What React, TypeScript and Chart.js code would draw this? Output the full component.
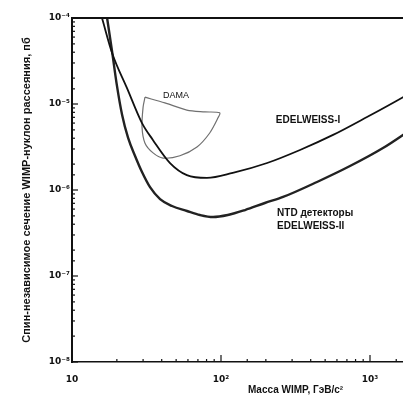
import { useEffect, useRef } from 'react';
import { Chart, registerables } from 'chart.js';

Chart.register(...registerables);

// EDELWEISS-I exclusion limit (mass in GeV/c^2, cross-section in pb)
const edelweiss1Mass = [15.9, 18.6, 23.4, 29.5, 35, 45.5, 59, 80.5, 120, 204, 339, 565, 955, 1665, 1854];
const edelweiss1Sigma = [1e-4, 3.9e-5, 1.53e-5, 6.0e-6, 3.8e-6, 2.06e-6, 1.49e-6, 1.38e-6, 1.58e-6, 2.06e-6, 2.92e-6, 4.37e-6, 7.06e-6, 1.2e-5, 1.34e-5];

// EDELWEISS-II (NTD detectors) projected limit
const edelweiss2Mass = [17.2, 18.6, 20.0, 21.7, 23.8, 26.5, 29.5, 33.4, 39.0, 46.9, 59.1, 72.3, 88.4, 111, 145, 197, 261, 441, 734, 1222, 1665, 1854];
const edelweiss2Sigma = [1e-4, 4.02e-5, 1.66e-5, 7.45e-6, 4.03e-6, 2.49e-6, 1.62e-6, 1.08e-6, 7.85e-7, 6.51e-7, 5.7e-7, 5.12e-7, 4.85e-7, 5.12e-7, 5.85e-7, 7.06e-7, 8.3e-7, 1.24e-6, 1.9e-6, 3.08e-6, 4.37e-6, 4.99e-6];

// DAMA allowed region (closed contour)
const damaMass = [30.9, 42, 59, 78, 98, 95.5, 84, 69, 53, 40.8, 35, 30.9, 29.5, 30, 30.9];
const damaSigma = [1.2e-5, 1.03e-5, 8.5e-6, 8.1e-6, 7.9e-6, 6.9e-6, 4.6e-6, 3.16e-6, 2.5e-6, 2.35e-6, 2.7e-6, 3.5e-6, 5.4e-6, 9.2e-6, 1.2e-5];

// Tick labels
const xTickValues = [10, 100, 1000];
const xTickLabels = ['10', '10²', '10³'];
const yTickValues = [1e-4, 1e-5, 1e-6, 1e-7, 1e-8];
const yTickLabels = ['10⁻⁴', '10⁻⁵', '10⁻⁶', '10⁻⁷', '10⁻⁸'];

// Text annotations anchored in data coordinates
const annotationTexts = ['DAMA', 'EDELWEISS-I', 'NTD детекторы', 'EDELWEISS-II'];
const annotationMass = [49.9, 384, 238, 238];
const annotationSigma = [1.27e-5, 6.4e-6, 5.4e-7, 3.75e-7];
const annotationAlign: CanvasTextAlign[] = ['center', 'center', 'left', 'left'];
const annotationFont = ['9px "Liberation Sans", Arial, sans-serif', 'bold 10px "Liberation Sans", Arial, sans-serif', 'bold 10px "Liberation Sans", Arial, sans-serif', 'bold 10px "Liberation Sans", Arial, sans-serif'];

const toPoints = (xs: number[], ys: number[]) => xs.map((x, i) => ({ x, y: ys[i] }));

const isDecade = (v: number) => Math.abs(Math.log10(v) - Math.round(Math.log10(v))) < 1e-6;

const labelFor = (values: number[], labels: string[], value: number) => {
  const i = values.findIndex((v) => Math.abs(Math.log10(v) - Math.log10(value)) < 1e-6);
  return i >= 0 ? labels[i] : '';
};

const decorPlugin = {
  id: 'decor',
  afterDraw(chart: any) {
    const { ctx, chartArea } = chart;
    const xs = chart.scales.x;
    const ys = chart.scales.y;
    ctx.save();
    ctx.strokeStyle = '#111';
    // top frame line
    ctx.lineWidth = 2;
    ctx.beginPath();
    ctx.moveTo(chartArea.left, chartArea.top);
    ctx.lineTo(chartArea.right, chartArea.top);
    ctx.stroke();
    // inward ticks on the left axis
    ctx.lineWidth = 1.2;
    ys.ticks.forEach((t: any) => {
      const y = ys.getPixelForValue(t.value);
      const len = isDecade(t.value) ? 6 : 3;
      ctx.beginPath();
      ctx.moveTo(chartArea.left, y);
      ctx.lineTo(chartArea.left + len, y);
      ctx.stroke();
    });
    // inward ticks on the bottom axis
    xs.ticks.forEach((t: any) => {
      const x = xs.getPixelForValue(t.value);
      const len = isDecade(t.value) ? 7 : 3;
      ctx.beginPath();
      ctx.moveTo(x, chartArea.bottom);
      ctx.lineTo(x, chartArea.bottom - len);
      ctx.stroke();
    });
    // annotations
    ctx.fillStyle = '#111';
    ctx.textBaseline = 'middle';
    annotationTexts.forEach((txt, i) => {
      ctx.font = annotationFont[i];
      ctx.textAlign = annotationAlign[i];
      ctx.fillText(txt, xs.getPixelForValue(annotationMass[i]), ys.getPixelForValue(annotationSigma[i]));
    });
    ctx.restore();
  },
};

export default function App() {
  const canvasRef = useRef<HTMLCanvasElement | null>(null);

  useEffect(() => {
    if (!canvasRef.current) return;
    const fontFamily = '"Liberation Sans", Arial, sans-serif';
    const tickFontFamily = '"DejaVu Sans", "Liberation Sans", sans-serif';
    const chart = new Chart(canvasRef.current, {
      type: 'line',
      data: {
        datasets: [
          {
            label: 'EDELWEISS-I',
            data: toPoints(edelweiss1Mass, edelweiss1Sigma),
            borderColor: '#111',
            borderWidth: 1.8,
            pointRadius: 0,
            cubicInterpolationMode: 'monotone',
            fill: false,
          },
          {
            label: 'EDELWEISS-II',
            data: toPoints(edelweiss2Mass, edelweiss2Sigma),
            borderColor: '#222',
            borderWidth: 2.4,
            pointRadius: 0,
            cubicInterpolationMode: 'monotone',
            fill: false,
          },
          {
            label: 'DAMA',
            data: toPoints(damaMass, damaSigma),
            borderColor: '#707070',
            borderWidth: 1.2,
            pointRadius: 0,
            tension: 0.3,
            fill: false,
          },
        ],
      },
      options: {
        animation: false,
        responsive: false,
        devicePixelRatio: 1,
        layout: { padding: { left: 0, top: 18, right: 21, bottom: 0 } },
        plugins: {
          legend: { display: false },
          tooltip: { enabled: false },
        },
        scales: {
          x: {
            type: 'logarithmic',
            min: 10,
            max: 10000,
            grid: { display: true, drawOnChartArea: false, drawTicks: false },
            border: { display: true, color: '#111', width: 1.6 },
            ticks: {
              autoSkip: false,
              maxRotation: 0,
              padding: 12,
              color: '#111',
              font: { family: tickFontFamily, size: 9, weight: 'bold' },
              callback: (value: any) => labelFor(xTickValues, xTickLabels, Number(value)),
            },
            title: {
              display: true,
              text: 'Масса WIMP, ГэВ/с²',
              color: '#111',
              font: { family: fontFamily, size: 10, weight: 'bold' },
              padding: { top: 0, bottom: 2 },
            },
            afterFit: (scale: any) => {
              scale.height = 36;
            },
          },
          y: {
            type: 'logarithmic',
            min: 1e-8,
            max: 1e-4,
            grid: { display: true, drawOnChartArea: false, drawTicks: false },
            border: { display: true, color: '#111', width: 2 },
            ticks: {
              autoSkip: false,
              padding: 2,
              color: '#111',
              font: { family: tickFontFamily, size: 9, weight: 'bold' },
              callback: (value: any) => labelFor(yTickValues, yTickLabels, Number(value)),
            },
            title: {
              display: true,
              text: 'Спин-независимое сечение WIMP-нуклон рассеяния, пб',
              color: '#111',
              font: { family: fontFamily, size: 11, weight: 'bold' },
              padding: { top: 20, bottom: 0 },
            },
            afterFit: (scale: any) => {
              scale.width = 72;
            },
          },
        },
      },
      plugins: [decorPlugin],
    });
    return () => chart.destroy();
  }, []);

  return (
    <div
      style={{
        position: 'absolute',
        left: 0,
        top: 0,
        width: 403,
        height: 398,
        overflow: 'hidden',
        background: '#fff',
      }}
    >
      <canvas ref={canvasRef} width={540} height={398} style={{ display: 'block' }} />
    </div>
  );
}
